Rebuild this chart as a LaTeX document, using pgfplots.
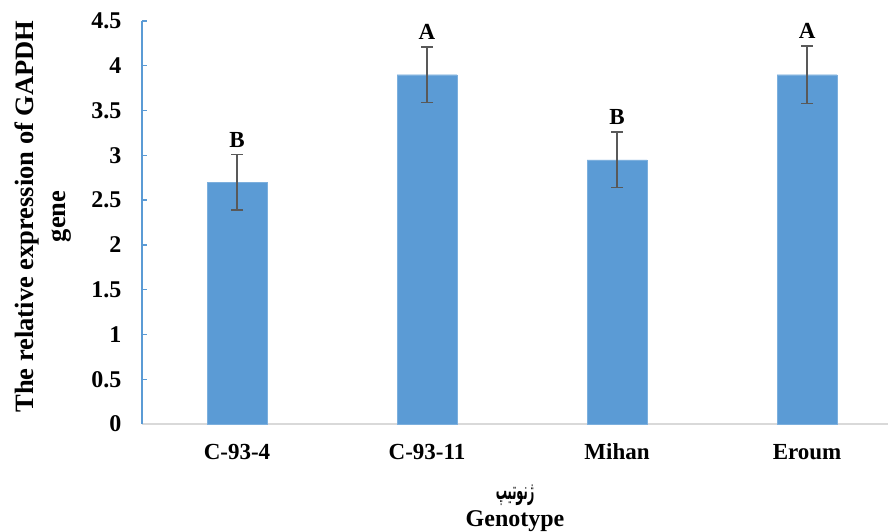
\documentclass[border=0pt]{standalone}
\usepackage{fontspec}
\setmainfont{Liberation Serif}
\newfontfamily\arabicfont[Script=Arabic]{DejaVu Sans}
\TeXXeTstate=1
\usepackage{pgfplots}
\pgfplotsset{compat=1.18}
\usetikzlibrary{calc}
\definecolor{barblue}{HTML}{5B9BD5}
\definecolor{errgray}{HTML}{595959}
\definecolor{axgray}{HTML}{D9D9D9}
\begin{document}
\begin{tikzpicture}
\begin{axis}[
  scale only axis,
  width=746pt, height=403pt,
  xmin=-0.5, xmax=3.426,
  ymin=0, ymax=4.5,
  ytick={0,0.5,...,4.5},
  xtick={0,1,2,3},
  xticklabels={C-93-4,C-93-11,Mihan,Eroum},
  axis lines*=left,
  x axis line style={axgray, line width=1.5pt},
  y axis line style={barblue, line width=1.3pt},
  ytick style={barblue, line width=1.3pt},
  xtick style={draw=none},
  tick align=inside,
  major tick length=5pt,
  /pgf/number format/assume math mode=true,
  yticklabel style={font=\fontsize{24}{26}\selectfont\bfseries, xshift=-17pt},
  yticklabel={\pgfmathprintnumber[fixed,precision=1]{\tick}},
  xticklabel style={font=\fontsize{23}{26}\selectfont\bfseries, anchor=base, yshift=-35pt},
  ylabel={The relative expression of GAPDH\\gene},
  ylabel style={font=\fontsize{26.5}{32}\selectfont\bfseries, align=center,
    at={(rel axis cs:0,0.515)}, anchor=center, yshift=99pt},
  xlabel={{\arabicfont\bfseries\fontsize{25}{26}\selectfont\scalebox{0.45}[1]{\beginR ژنوتیپ\endR}}\\[1pt]Genotype},
  xlabel style={font=\fontsize{24}{26}\selectfont\bfseries, align=center,
    at={(rel axis cs:0.5,0)}, anchor=center, yshift=-84pt},
  clip=false,
]
\addplot[ybar, bar width=60pt, fill=barblue, draw=barblue!80!white,
  error bars/.cd, y dir=both, y explicit,
  error bar style={errgray, line width=1.6pt},
  error mark options={rotate=90, mark size=6pt, errgray, line width=1.6pt}]
  coordinates {
    (0,2.70) +- (0,0.31)
    (1,3.90) +- (0,0.31)
    (2,2.95) +- (0,0.31)
    (3,3.90) +- (0,0.32)
  };
\addplot[only marks, mark=none, nodes near coords, point meta=explicit symbolic,
  every node near coord/.append style={font=\fontsize{23}{26}\selectfont\bfseries, anchor=south, inner sep=0pt, yshift=7pt}]
  coordinates {
    (0,3.01) [B]
    (1,4.21) [A]
    (2,3.26) [B]
    (3,4.22) [A]
  };
\coordinate (O) at (rel axis cs:0,0);
\end{axis}
\pgfresetboundingbox
\useasboundingbox ($(O)+(-142pt,-108pt)$) rectangle ($(O)+(746pt,424pt)$);
\end{tikzpicture}
\end{document}
